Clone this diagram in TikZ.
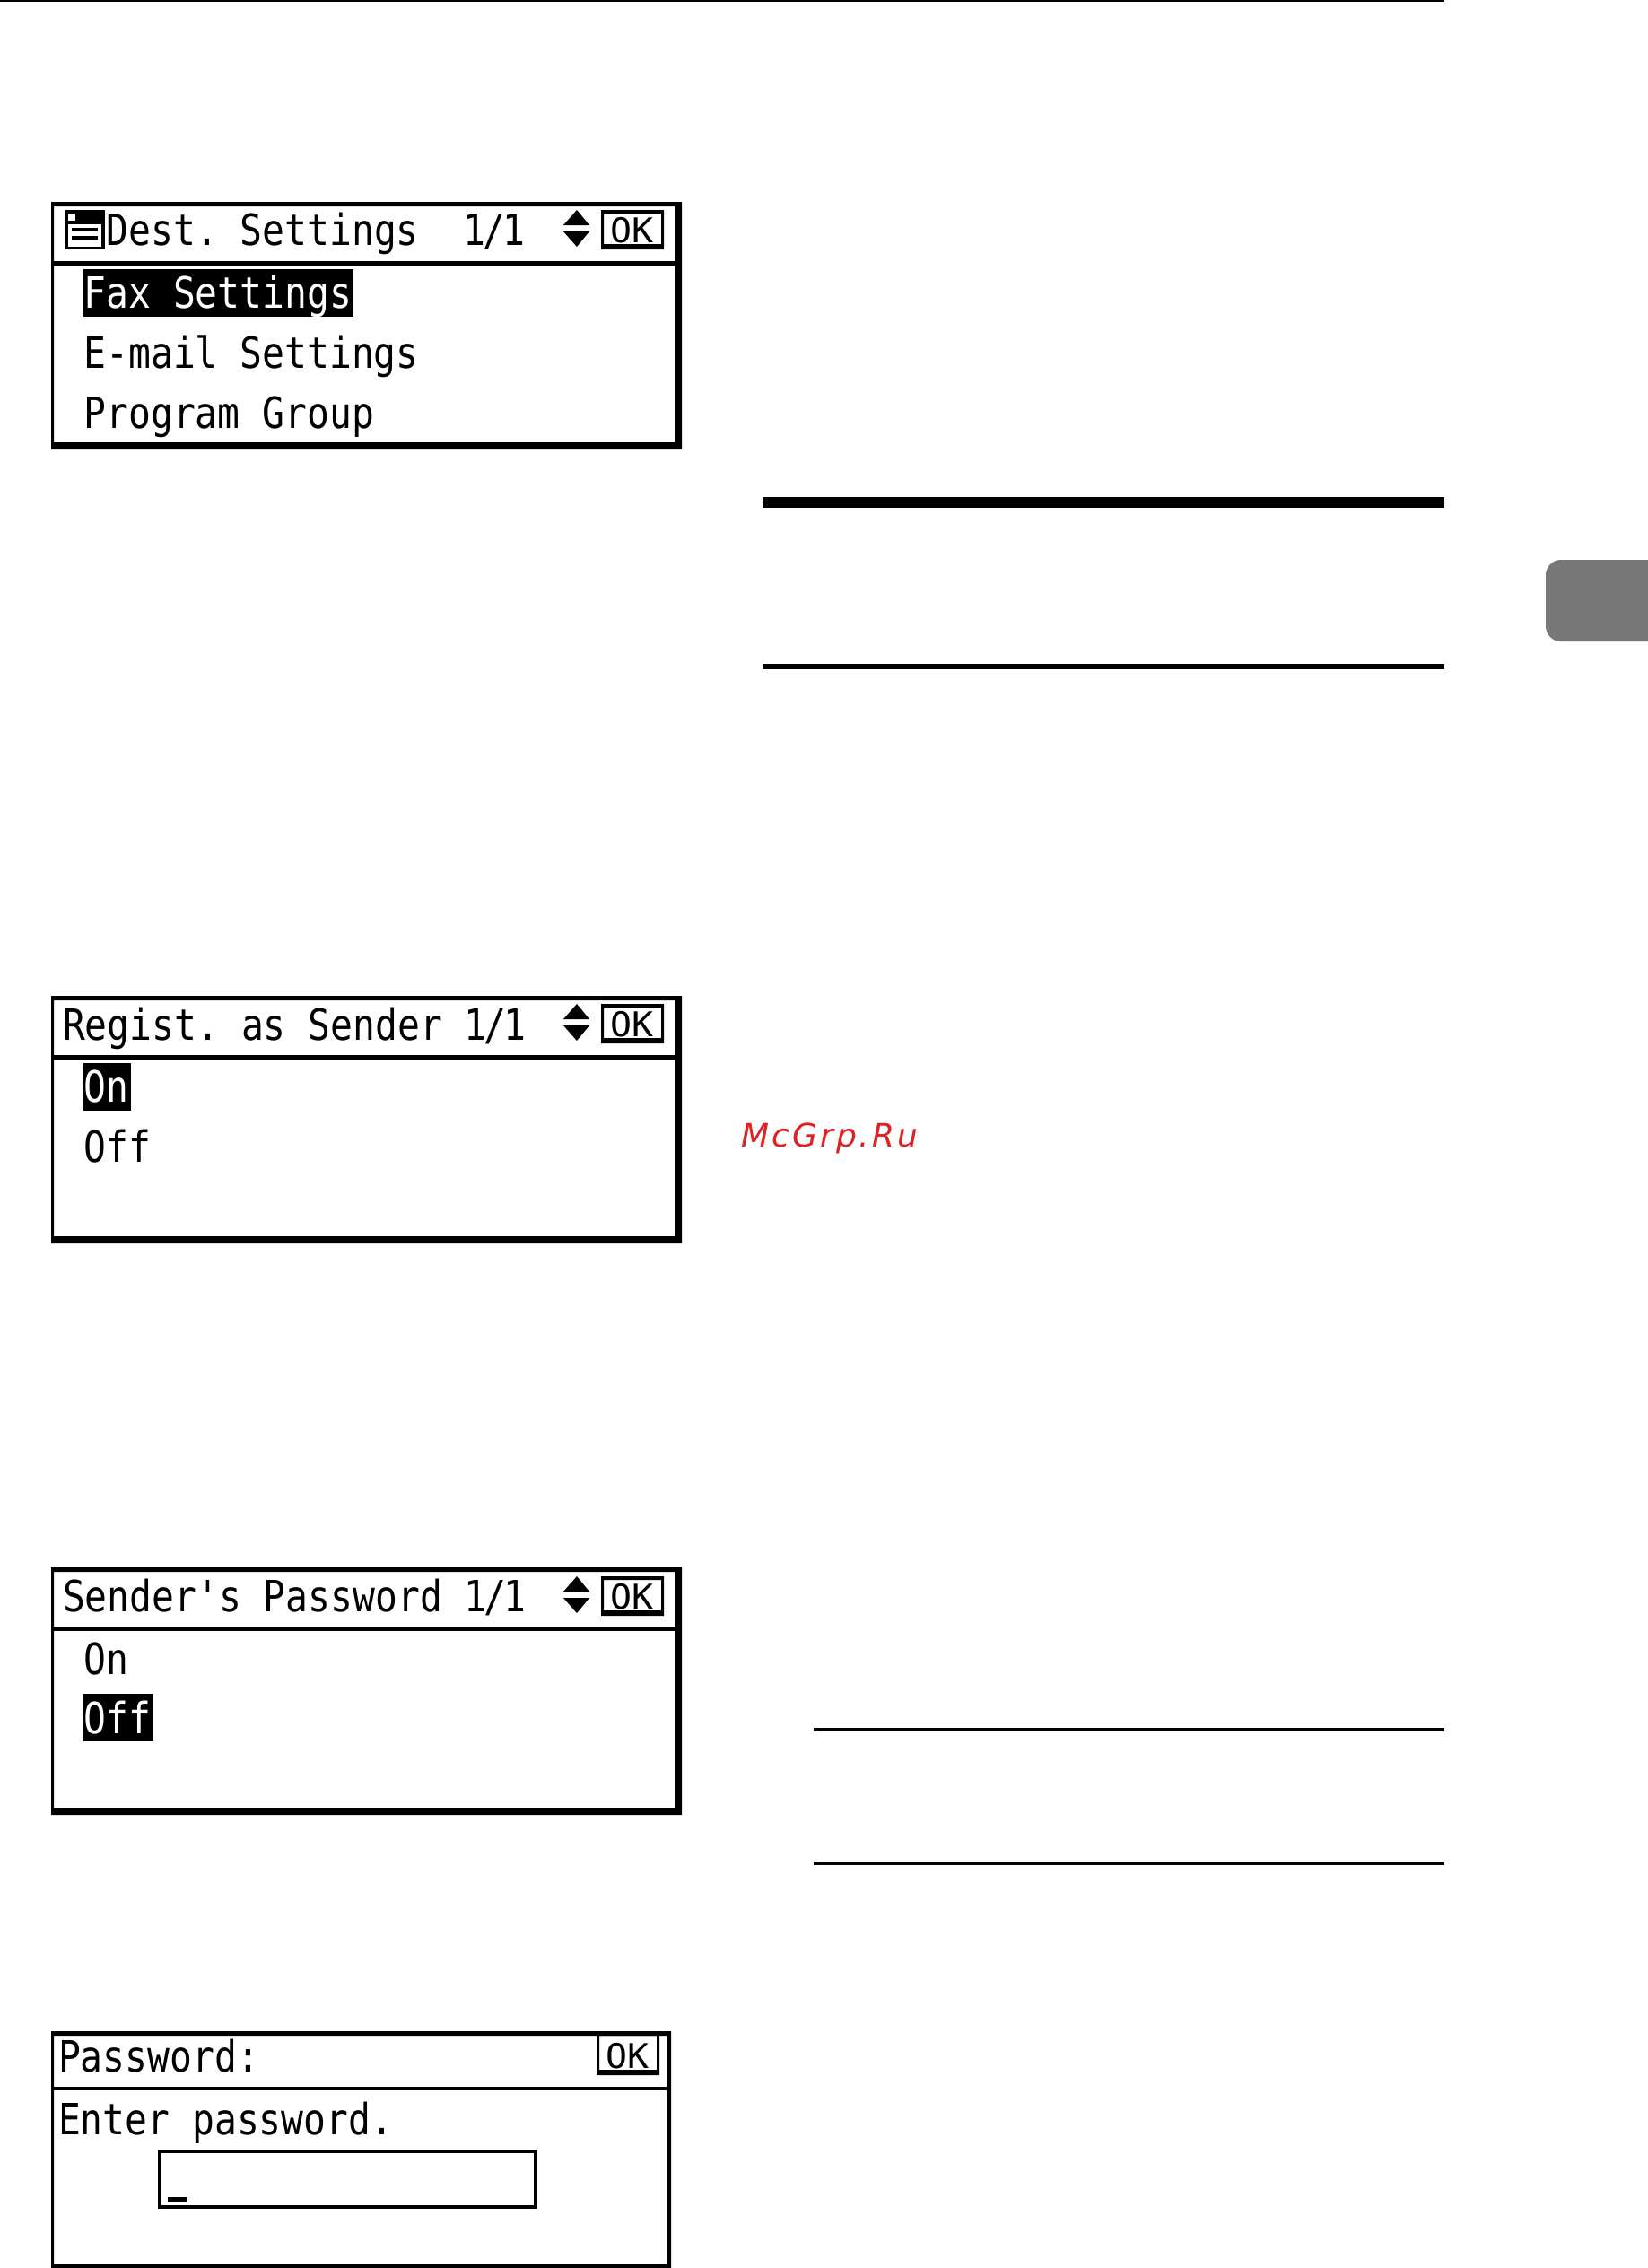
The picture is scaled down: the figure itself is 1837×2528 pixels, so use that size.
\documentclass[tikz,border=0pt]{standalone}
\usepackage{fontspec}
\newfontfamily\lcd[FakeStretch=0.861]{DejaVu Sans Mono}
\newfontfamily\lcdok[FakeStretch=1.05]{DejaVu Sans Mono}
\newfontfamily\wm[LetterSpace=8.5]{DejaVu Sans Oblique}
\newcommand{\pagenum}{1\kern-3pt/\kern-3pt 1}
\begin{document}
\begin{tikzpicture}[x=1pt,y=-1pt,
  lcdtext/.style={anchor=base west,inner sep=0pt,outer sep=0pt,font=\lcd\fontsize{48}{48}\selectfont,text=black},
  invtext/.style={lcdtext,text=white},
  oktext/.style={anchor=base west,inner sep=0pt,outer sep=0pt,font=\lcdok\fontsize{38}{38}\selectfont,text=black},
  hilite/.style={fill=black,draw=none},
  frameline/.style={fill=black,draw=none},
  tri/.style={fill=black,draw=none},
  rule/.style={fill=black,draw=none}]
\useasboundingbox (0,0) rectangle (1837,2528);
\fill[white] (0,0) rectangle (1837,2528);
% page rules
\fill[rule] (0,0) rectangle (1610,2);
\fill[rule] (850,554) rectangle (1610,566);
\fill[rule] (850,740) rectangle (1610,746);
\fill[rule] (907,1926) rectangle (1610,1929);
\fill[rule] (907,2075) rectangle (1610,2079);
\fill[black!53,rounded corners=17pt] (1860,624) -- (1723,624) -- (1723,715) -- (1860,715) -- cycle;
% Box 1
\fill[frameline,even odd rule] (57,225) rectangle (760,501) (60,230) rectangle (752,493);
\fill[frameline] (60,291) rectangle (752,296);
\fill[black] (73,234) rectangle (117,278);
\fill[white] (76,250) rectangle (113,275);
\fill[white] (76,238) rectangle (84,246);
\fill[black] (80,254) rectangle (109,258);
\fill[black] (80,263) rectangle (109,267);
\node[lcdtext] (t1) at (118.5,273) {Dest.\ Settings\ \ \pagenum};
\fill[tri] (643,234) -- (657,251) -- (628,251) -- cycle;
\fill[tri] (643,275) -- (657,258) -- (628,258) -- cycle;
\fill[frameline,even odd rule] (670,234) rectangle (740,278) (673,238) rectangle (737,272);
\node[oktext] (k1) at (680,270) {OK};
\fill[hilite] (93,300) rectangle (394,353);
\node[invtext] (a1) at (93.5,343) {Fax Settings};
\node[lcdtext] (a2) at (93.5,410) {E-mail Settings};
\node[lcdtext] (a3) at (93.5,477) {Program Group};
% Box 2
\fill[frameline,even odd rule] (57,1110) rectangle (760,1386) (60,1115) rectangle (752,1378);
\fill[frameline] (60,1176) rectangle (752,1181);
\node[lcdtext] (t2) at (70,1159) {Regist.\ as Sender \pagenum};
\fill[tri] (643,1119) -- (657,1136) -- (628,1136) -- cycle;
\fill[tri] (643,1160) -- (657,1143) -- (628,1143) -- cycle;
\fill[frameline,even odd rule] (670,1119) rectangle (740,1163) (673,1123) rectangle (737,1157);
\node[oktext] (k2) at (680,1155) {OK};
\fill[hilite] (93,1185) rectangle (146,1238);
\node[invtext] (b1) at (93.5,1228) {On};
\node[lcdtext] (b2) at (93.5,1295) {Off};
% Box 3
\fill[frameline,even odd rule] (57,1747) rectangle (760,2023) (60,1752) rectangle (752,2015);
\fill[frameline] (60,1813) rectangle (752,1818);
\node[lcdtext] (t3) at (70,1796) {Sender's Password \pagenum};
\fill[tri] (643,1757) -- (657,1774) -- (628,1774) -- cycle;
\fill[tri] (643,1798) -- (657,1781) -- (628,1781) -- cycle;
\fill[frameline,even odd rule] (670,1757) rectangle (740,1801) (673,1761) rectangle (737,1795);
\node[oktext] (k3) at (680,1793) {OK};
\node[lcdtext] (c1) at (93.5,1866) {On};
\fill[hilite] (93,1888) rectangle (171,1941);
\node[invtext] (c2) at (93.5,1932) {Off};
% Box 4
\fill[frameline,even odd rule] (57,2264) rectangle (748,2528) (60,2269) rectangle (743,2524);
\fill[frameline] (60,2326) rectangle (743,2330);
\node[lcdtext] (t4) at (65,2309) {Password:};
\fill[frameline,even odd rule] (665,2268) rectangle (735,2313) (668,2269) rectangle (732,2307);
\node[oktext] (k4) at (675,2305) {OK};
\node[lcdtext] (d1) at (65,2379) {Enter password.};
\draw[black,line width=4pt] (177.5,2398) rectangle (597,2460);
\fill[black] (187,2449) rectangle (208.5,2454);
% watermark
\node[anchor=base west,inner sep=0pt,font=\wm\fontsize{36}{36}\selectfont,text={rgb,255:red,222;green,34;blue,36}] (wm) at (826,1278) {McGrp.Ru};
\end{tikzpicture}
\end{document}
